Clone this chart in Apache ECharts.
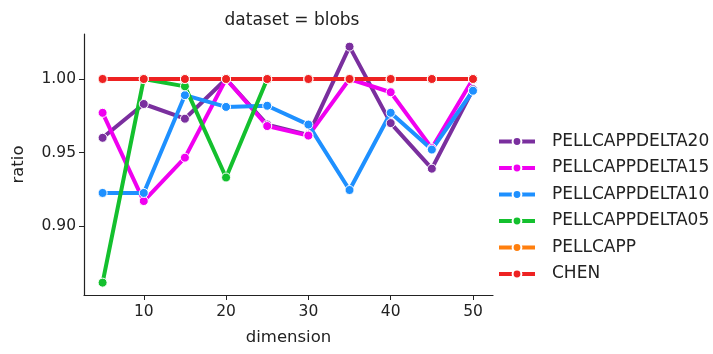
<!DOCTYPE html>
<html>
<head>
<meta charset="utf-8">
<script src="https://cdn.jsdelivr.net/npm/echarts@6/dist/echarts.min.js"></script>
<style>
  html, body { margin: 0; padding: 0; background: #fff; }
  #chart { width: 713px; height: 354px; }
</style>
</head>
<body>
<div id="chart"></div>
<script>
// x values (dimension)
const dims = [5, 10, 15, 20, 25, 30, 35, 40, 45, 50];
const xTicks = [10, 20, 30, 40, 50];
const yTicks = [0.90, 0.95, 1.00];

const delta20 = [0.960, 0.983, 0.973, 1.000, 0.969, 0.962, 1.022, 0.970, 0.939, 0.993];
const delta15 = [0.977, 0.917, 0.9465, 1.000, 0.968, 0.9615, 1.000, 0.991, 0.953, 1.000];
const delta10 = [0.9225, 0.9225, 0.989, 0.981, 0.9818, 0.969, 0.9245, 0.977, 0.952, 0.992];
const delta05 = [0.8615, 1.000, 0.995, 0.933, 1.000, 1.000, 1.000, 1.000, 1.000, 1.000];
const pellcapp = [1, 1, 1, 1, 1, 1, 1, 1, 1, 1];
const chen = [1, 1, 1, 1, 1, 1, 1, 1, 1, 1];

const names = ['PELLCAPPDELTA20', 'PELLCAPPDELTA15', 'PELLCAPPDELTA10', 'PELLCAPPDELTA05', 'PELLCAPP', 'CHEN'];
const colors = ['#7a2f9e', '#f000f0', '#1e90ff', '#14c02e', '#ff7f0e', '#ee2222'];
const values = [delta20, delta15, delta10, delta05, pellcapp, chen];

const font = 'DejaVu Sans';
const chart = echarts.init(document.getElementById('chart'));

const series = names.map((n, i) => ({
  name: n,
  type: 'line',
  data: dims.map((d, j) => [d, values[i][j]]),
  symbol: 'circle',
  symbolSize: 9,
  color: colors[i],
  lineStyle: { width: 4, color: colors[i] },
  itemStyle: { color: colors[i], borderColor: '#fff', borderWidth: 1 },
  emphasis: { disabled: true },
  animation: false
}));

chart.setOption({
  animation: false,
  title: {
    text: 'dataset = blobs',
    left: 287, top: 7, textAlign: 'center',
    textStyle: { fontFamily: font, fontSize: 17, fontWeight: 'normal', color: '#222' }
  },
  grid: { left: 84, top: 34, right: 220, bottom: 59 },
  legend: {
    orient: 'vertical',
    left: 497, top: 133, padding: 0,
    itemWidth: 36, itemHeight: 11, itemGap: 9.5,
    lineStyle: { width: 4 },
    textStyle: { fontFamily: font, fontSize: 17, color: '#222', padding: [0, 0, 0, 12] },
    data: names
  },
  xAxis: {
    type: 'value',
    min: 2.74, max: 52.43,
    name: 'dimension',
    nameLocation: 'middle', nameGap: 34,
    nameTextStyle: { fontFamily: font, fontSize: 16.5, color: '#222' },
    axisLine: { show: true, lineStyle: { color: '#222', width: 1.2 } },
    axisTick: { show: true, length: 5, customValues: xTicks, lineStyle: { color: '#222' } },
    axisLabel: { customValues: xTicks, fontFamily: font, fontSize: 15.5, color: '#222', margin: 9 },
    splitLine: { show: false }
  },
  yAxis: {
    type: 'value',
    min: 0.8531, max: 1.0306,
    name: 'ratio',
    nameLocation: 'middle', nameGap: 57,
    nameTextStyle: { fontFamily: font, fontSize: 16.5, color: '#222' },
    axisLine: { show: true, lineStyle: { color: '#222', width: 1.2 } },
    axisTick: { show: true, length: 5, customValues: yTicks, lineStyle: { color: '#222' } },
    axisLabel: {
      customValues: yTicks, fontFamily: font, fontSize: 15.5, color: '#222', margin: 8,
      formatter: v => v.toFixed(2)
    },
    splitLine: { show: false }
  },
  series: series
});
</script>
</body>
</html>
